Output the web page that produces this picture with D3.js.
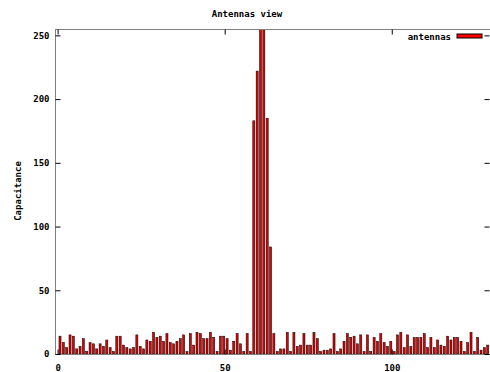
<!DOCTYPE html>
<html>
<head>
<meta charset="utf-8">
<script src="https://cdn.jsdelivr.net/npm/d3@7"></script>
<style>
  html, body { margin: 0; padding: 0; background: #fff; }
  svg { display: block; }
  text { font-family: "DejaVu Sans Mono", monospace; font-weight: bold; font-size: 9px; fill: #000; }
</style>
</head>
<body>
<svg id="chart" width="490" height="372"></svg>
<script>
const chartTitle = "Antennas view";
const yLabel = "Capacitance";
const seriesName = "antennas";
const xTicks = [0, 50, 100];
const yTicks = [0, 50, 100, 150, 200, 250];
const capacitance = [
  14, 9, 5, 15, 14, 4, 6, 12, 2, 9,
  8, 4, 8, 6, 11, 5, 2, 14, 14, 7,
  5, 4, 5, 15, 6, 4, 11, 10, 17, 13,
  14, 10, 16, 9, 8, 10, 12, 15, 2, 16,
  7, 17, 16, 12, 12, 17, 13, 2, 14, 14,
  12, 3, 10, 16, 8, 2, 16, 2, 183, 222,
  255, 255, 185, 84, 16, 2, 4, 4, 17, 2,
  17, 6, 7, 16, 7, 7, 17, 12, 2, 3,
  3, 4, 16, 2, 4, 10, 16, 13, 14, 8,
  15, 2, 15, 2, 13, 10, 16, 9, 6, 10,
  2, 15, 17, 5, 15, 6, 13, 13, 13, 16,
  5, 13, 5, 11, 7, 6, 14, 11, 13, 13,
  10, 2, 9, 17, 2, 13, 3, 5, 7
];
const antennaIndex = capacitance.map((_, i) => i);

const svg = d3.select("#chart");
const L = 55, R = 490, T = 29, B = 354;
const x = d3.scaleLinear().domain([-0.78, 129.4]).range([L, R]);
const y = d3.scaleLinear().domain([0, 255]).range([B, T]);
const barOffset = 0.72, barW = 0.62;

svg.append("defs").append("clipPath").attr("id", "clip")
  .append("rect").attr("x", L).attr("y", T).attr("width", R - L).attr("height", B - T);

// bars
svg.append("g").attr("clip-path", "url(#clip)")
  .selectAll("rect").data(antennaIndex).join("rect")
  .attr("x", i => x(i + barOffset - barW / 2))
  .attr("y", i => y(capacitance[i]))
  .attr("width", x(barW) - x(0))
  .attr("height", i => y(0) - y(capacitance[i]))
  .attr("fill", "#dd0000")
  .attr("stroke", "#000")
  .attr("stroke-width", 0.5);

// border
svg.append("rect").attr("x", L + 0.5).attr("y", T + 0.5)
  .attr("width", R - L).attr("height", B - T)
  .attr("fill", "none").attr("stroke", "#808080").attr("stroke-width", 1);

// axes
const tickLen = 5;
const yAxisL = d3.axisLeft(y).tickValues(yTicks).tickSize(-tickLen).tickPadding(6);
const gy = svg.append("g").attr("transform", `translate(${L + 0.5},0)`).call(yAxisL);
const yAxisR = d3.axisRight(y).tickValues(yTicks).tickSize(-tickLen).tickFormat("");
const gyr = svg.append("g").attr("transform", `translate(${R - 0.5},0)`).call(yAxisR);
const xAxisB = d3.axisBottom(x).tickValues(xTicks).tickSize(-tickLen).tickPadding(10);
const gx = svg.append("g").attr("transform", `translate(0,${B + 0.5})`).call(xAxisB);
const xAxisT = d3.axisTop(x).tickValues(xTicks).tickSize(-tickLen).tickFormat("");
const gxt = svg.append("g").attr("transform", `translate(0,${T + 0.5})`).call(xAxisT);
[gy, gyr, gx, gxt].forEach(g => {
  g.select(".domain").remove();
  g.selectAll(".tick line").attr("stroke", "#000");
  g.selectAll("text").attr("font-family", null).attr("font-size", null);
});

// title
svg.append("text").attr("x", 247).attr("y", 17).attr("text-anchor", "middle").text(chartTitle);
// y label
svg.append("text").attr("transform", "translate(21,191) rotate(-90)")
  .attr("text-anchor", "middle").text(yLabel);

// legend
svg.append("text").attr("x", 451).attr("y", 40).attr("text-anchor", "end").text(seriesName);
svg.append("rect").attr("x", 457).attr("y", 34).attr("width", 25).attr("height", 4)
  .attr("fill", "#ff0000").attr("stroke", "#000").attr("stroke-width", 1);
</script>
</body>
</html>
